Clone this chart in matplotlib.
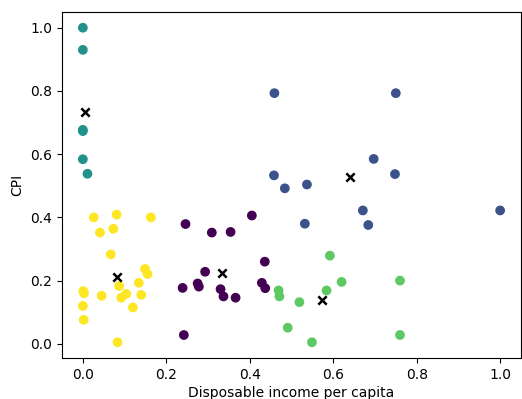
import matplotlib
matplotlib.use("Agg")
import matplotlib.pyplot as plt
import numpy as np

# cluster 0 (purple)
x0 = [0.246, 0.309, 0.354, 0.405, 0.436, 0.293, 0.275, 0.278, 0.239, 0.330, 0.337, 0.366, 0.429, 0.437, 0.242]
y0 = [0.379, 0.352, 0.354, 0.406, 0.260, 0.228, 0.191, 0.181, 0.177, 0.173, 0.150, 0.146, 0.193, 0.176, 0.028]
# cluster 1 (blue)
x1 = [0.459, 0.750, 0.697, 0.458, 0.484, 0.537, 0.748, 0.671, 0.532, 0.684, 1.000]
y1 = [0.793, 0.793, 0.585, 0.533, 0.492, 0.504, 0.537, 0.422, 0.380, 0.376, 0.422]
# cluster 2 (teal)
x2 = [0.000, 0.000, 0.000, 0.000, 0.000, 0.011]
y2 = [1.000, 0.930, 0.677, 0.673, 0.584, 0.538]
# cluster 3 (green)
x3 = [0.592, 0.620, 0.760, 0.469, 0.471, 0.584, 0.519, 0.491, 0.549, 0.760]
y3 = [0.279, 0.196, 0.200, 0.169, 0.150, 0.169, 0.132, 0.051, 0.005, 0.028]
# cluster 4 (yellow)
x4 = [0.026, 0.081, 0.163, 0.041, 0.073, 0.067, 0.149, 0.155, 0.134, 0.087,
      0.001, 0.003, 0.045, 0.104, 0.092, 0.140, 0.120, 0.000, 0.002, 0.083]
y4 = [0.400, 0.409, 0.400, 0.352, 0.364, 0.283, 0.237, 0.221, 0.193, 0.183,
      0.167, 0.160, 0.152, 0.158, 0.146, 0.155, 0.115, 0.120, 0.076, 0.005]

# centroids
cx = [0.333, 0.639, 0.005, 0.574, 0.081]
cy = [0.223, 0.529, 0.733, 0.139, 0.212]

xs = [x0, x1, x2, x3, x4]
ys = [y0, y1, y2, y3, y4]
X = np.concatenate([np.array(v) for v in xs])
Y = np.concatenate([np.array(v) for v in ys])
labels = np.concatenate([np.full(len(v), i) for i, v in enumerate(xs)])

fig = plt.figure(figsize=(5.22, 3.99), dpi=100)
ax = fig.add_axes([62/522, 41/399, 459/522, 346/399])
ax.scatter(X, Y, c=labels, cmap='viridis', s=36)
ax.scatter(cx, cy, c='black', marker='x', s=36, linewidths=1.8)
ax.set_xlabel("Disposable income per capita", labelpad=3)
ax.set_ylabel("CPI")
ax.set_xticks([0.0, 0.2, 0.4, 0.6, 0.8, 1.0])
ax.set_yticks([0.0, 0.2, 0.4, 0.6, 0.8, 1.0])
fig.savefig("out.png", dpi=100)
